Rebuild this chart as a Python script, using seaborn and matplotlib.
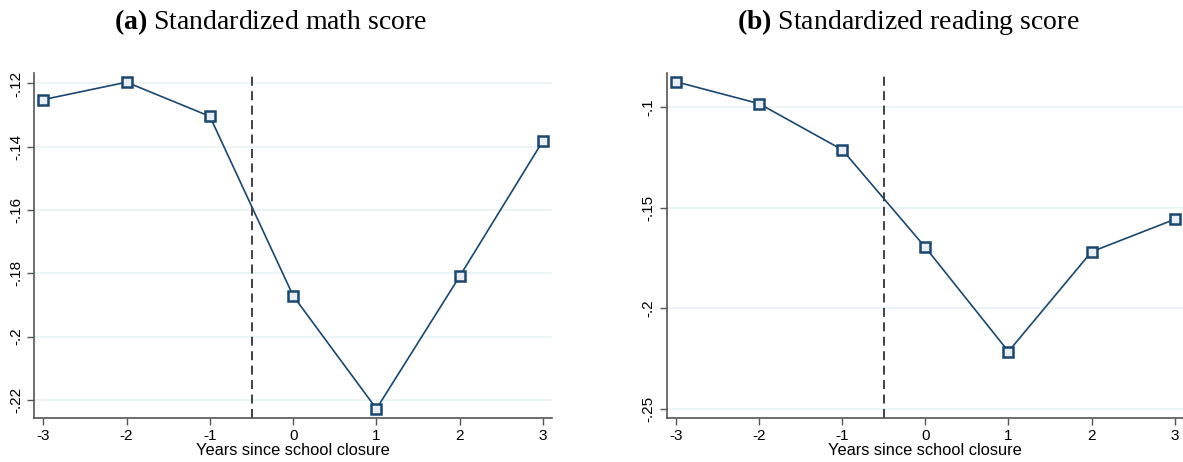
import matplotlib
matplotlib.use("Agg")
import matplotlib.pyplot as plt
import numpy as np
import pandas as pd
import seaborn as sns

# event-time coefficients
years = [-3, -2, -1, 0, 1, 2, 3]
math_score = [-0.1251, -0.1196, -0.1304, -0.1871, -0.2228, -0.1809, -0.1381]
reading_score = [-0.0873, -0.0982, -0.1211, -0.1696, -0.2214, -0.1718, -0.1557]

math_ticks = [-0.12, -0.14, -0.16, -0.18, -0.2, -0.22]
math_labels = ['-.12', '-.14', '-.16', '-.18', '-.2', '-.22']
read_ticks = [-0.1, -0.15, -0.2, -0.25]
read_labels = ['-.1', '-.15', '-.2', '-.25']

sns.set_style("white")
plt.rcParams['font.family'] = ['Liberation Sans', 'DejaVu Sans']
plt.rcParams['mathtext.fontset'] = 'custom'
plt.rcParams['mathtext.rm'] = 'Liberation Serif'
plt.rcParams['mathtext.bf'] = 'Liberation Serif:bold'
plt.rcParams['text.color'] = 'black'
plt.rcParams['xtick.color'] = 'black'
plt.rcParams['ytick.color'] = 'black'
plt.rcParams['axes.labelcolor'] = 'black'

navy = '#1a476f'
grid_col = '#eaf2f3'
axis_col = '#555555'

fig = plt.figure(figsize=(11.83, 4.62), dpi=100)
ax1 = fig.add_axes([34.3 / 1183, 1 - 418.3 / 462, (551.7 - 34.3) / 1183, (418.3 - 72.7) / 462])
ax2 = fig.add_axes([666.7 / 1183, 1 - 418.3 / 462, (1183 - 666.7) / 1183, (418.3 - 72.7) / 462])

panels = [
    (ax1, math_score, math_ticks, math_labels, (-0.2258, -0.1166), (-3.108, 3.104), 'a', 'Standardized math score', 271),
    (ax2, reading_score, read_ticks, read_labels, (-0.2546, -0.0828), (-3.112, 3.1), 'b', 'Standardized reading score', 908),
]

for ax, vals, ticks, labels, ylim, xlim, letter, title, tx in panels:
    df = pd.DataFrame({'year': years, 'coef': vals})
    for t in ticks:
        ax.axhline(t, color=grid_col, lw=1.2, zorder=0)
    ax.axvline(-0.5, color='#333333', lw=1.3, ls=(0, (5, 3)), zorder=1)
    sns.lineplot(data=df, x='year', y='coef', ax=ax, color=navy, lw=1.2,
                 marker='s', markersize=7, markerfacecolor='#e8eef4',
                 markeredgecolor=navy, markeredgewidth=1.8, zorder=3)
    ax.set_xlim(*xlim)
    ax.set_ylim(*ylim)
    ax.set_xticks(years)
    ax.set_xticklabels([str(y) for y in years], fontsize=11)
    ax.set_yticks(ticks)
    ax.set_yticklabels(labels, rotation=90, va='center', fontsize=11)
    ax.set_xlabel('Years since school closure', fontsize=11.8, labelpad=0)
    ax.set_ylabel('')
    for s in ['top', 'right']:
        ax.spines[s].set_visible(False)
    for s in ['left', 'bottom']:
        ax.spines[s].set_color(axis_col)
        ax.spines[s].set_linewidth(1.2)
    ax.tick_params(axis='both', length=5, width=1, color=axis_col, pad=3, direction='out',
                   bottom=True, left=True)
    ax.grid(False)
    fig.text(tx / 1183, 1 - 22 / 462, r'$\mathbf{(' + letter + r')}$ ' + title, fontsize=20,
             family='Liberation Serif', ha='center', va='center')

fig.savefig('out.png', dpi=100)
